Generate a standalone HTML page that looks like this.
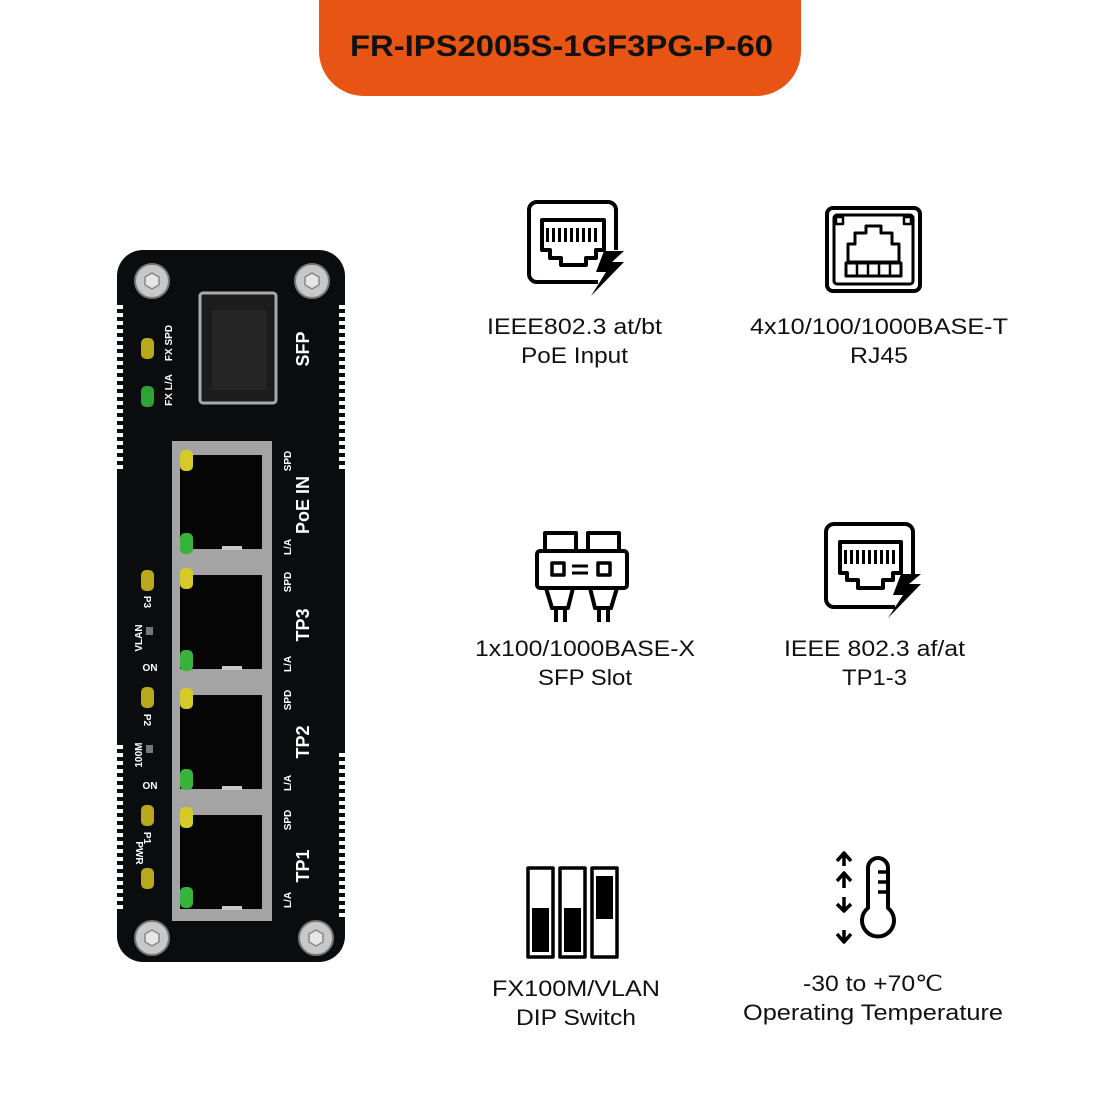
<!DOCTYPE html>
<html><head><meta charset="utf-8"><style>
html,body{margin:0;padding:0;background:#fff;width:1120px;height:1120px;overflow:hidden}
svg text{font-family:"Liberation Sans",sans-serif}
</style></head><body>
<svg width="1120" height="1120" viewBox="0 0 1120 1120" xmlns="http://www.w3.org/2000/svg">
<path d="M319 0H801V51A45 45 0 0 1 756 96H364A45 45 0 0 1 319 51Z" fill="#e85413"/>
<text x="350" y="56" font-size="30" font-weight="bold" fill="#111" textLength="423" lengthAdjust="spacingAndGlyphs">FR-IPS2005S-1GF3PG-P-60</text>

<!-- device -->
<rect x="117" y="250" width="228" height="712" rx="26" fill="#0b0c0e"/>
<g fill="#fff">
<g id="tl"><rect x="117" y="305" width="6" height="4"/><rect x="117" y="313" width="6" height="4"/><rect x="117" y="321" width="6" height="4"/><rect x="117" y="329" width="6" height="4"/><rect x="117" y="337" width="6" height="4"/><rect x="117" y="345" width="6" height="4"/><rect x="117" y="353" width="6" height="4"/><rect x="117" y="361" width="6" height="4"/><rect x="117" y="369" width="6" height="4"/><rect x="117" y="377" width="6" height="4"/><rect x="117" y="385" width="6" height="4"/><rect x="117" y="393" width="6" height="4"/><rect x="117" y="401" width="6" height="4"/><rect x="117" y="409" width="6" height="4"/><rect x="117" y="417" width="6" height="4"/><rect x="117" y="425" width="6" height="4"/><rect x="117" y="433" width="6" height="4"/><rect x="117" y="441" width="6" height="4"/><rect x="117" y="449" width="6" height="4"/><rect x="117" y="457" width="6" height="4"/><rect x="117" y="465" width="6" height="4"/></g>
<use href="#tl" transform="translate(0,440)"/>
<use href="#tl" transform="translate(222,0)"/>
<use href="#tl" transform="translate(222,448)"/>
</g>
<g fill="#c8c8c8" stroke="#777" stroke-width="2">
<circle cx="152" cy="281" r="17"/><circle cx="312" cy="281" r="17"/><circle cx="152" cy="938" r="17"/><circle cx="316" cy="938" r="17"/>
</g>
<g fill="#e6e6e6" stroke="#888" stroke-width="1.5">
<polygon points="152,273 159,277 159,285 152,289 145,285 145,277"/><polygon points="312,273 319,277 319,285 312,289 305,285 305,277"/>
<polygon points="152,930 159,934 159,942 152,946 145,942 145,934"/><polygon points="316,930 323,934 323,942 316,946 309,942 309,934"/>
</g>
<rect x="200" y="293" width="76" height="110" rx="3" fill="#1c1c1c" stroke="#aaa" stroke-width="3"/>
<rect x="212" y="310" width="54" height="80" fill="#262626"/>
<rect x="172" y="441" width="100" height="480" fill="#a4a4a4"/>
<g fill="#050505">
<rect x="180" y="455" width="82" height="94"/><rect x="180" y="575" width="82" height="94"/><rect x="180" y="695" width="82" height="94"/><rect x="180" y="815" width="82" height="94"/>
</g>
<g fill="#c8c8c8"><rect x="222" y="546" width="20" height="4"/><rect x="222" y="666" width="20" height="4"/><rect x="222" y="786" width="20" height="4"/><rect x="222" y="906" width="20" height="4"/></g>
<g>
<rect x="180" y="450" width="13" height="21" rx="5" fill="#d6c928"/><rect x="180" y="533" width="13" height="21" rx="5" fill="#37b33b"/>
<rect x="180" y="568" width="13" height="21" rx="5" fill="#d6c928"/><rect x="180" y="650" width="13" height="21" rx="5" fill="#37b33b"/>
<rect x="180" y="688" width="13" height="21" rx="5" fill="#d6c928"/><rect x="180" y="769" width="13" height="21" rx="5" fill="#37b33b"/>
<rect x="180" y="807" width="13" height="21" rx="5" fill="#d6c928"/><rect x="180" y="887" width="13" height="21" rx="5" fill="#37b33b"/>
<rect x="141" y="338" width="13" height="21" rx="5" fill="#b7a81e"/><rect x="141" y="386" width="13" height="21" rx="5" fill="#2fa235"/>
<rect x="141" y="570" width="13" height="21" rx="5" fill="#b7a81e"/><rect x="141" y="687" width="13" height="21" rx="5" fill="#b7a81e"/>
<rect x="141" y="805" width="13" height="21" rx="5" fill="#b7a81e"/><rect x="141" y="868" width="13" height="21" rx="5" fill="#b7a81e"/>
<rect x="146" y="627" width="7" height="8" fill="#777"/><rect x="146" y="745" width="7" height="8" fill="#777"/>
</g>
<g fill="#fff" font-weight="bold">
<text transform="translate(309,349) rotate(-90)" font-size="18" text-anchor="middle">SFP</text>
<text transform="translate(309,505) rotate(-90)" font-size="18" text-anchor="middle">PoE IN</text>
<text transform="translate(309,625) rotate(-90)" font-size="18" text-anchor="middle">TP3</text>
<text transform="translate(309,742) rotate(-90)" font-size="18" text-anchor="middle">TP2</text>
<text transform="translate(309,866) rotate(-90)" font-size="18" text-anchor="middle">TP1</text>
<g font-size="10">
<text transform="translate(291,461) rotate(-90)" text-anchor="middle">SPD</text>
<text transform="translate(291,582) rotate(-90)" text-anchor="middle">SPD</text>
<text transform="translate(291,700) rotate(-90)" text-anchor="middle">SPD</text>
<text transform="translate(291,820) rotate(-90)" text-anchor="middle">SPD</text>
<text transform="translate(291,547) rotate(-90)" text-anchor="middle">L/A</text>
<text transform="translate(291,664) rotate(-90)" text-anchor="middle">L/A</text>
<text transform="translate(291,783) rotate(-90)" text-anchor="middle">L/A</text>
<text transform="translate(291,900) rotate(-90)" text-anchor="middle">L/A</text>
<text transform="translate(172,343) rotate(-90)" text-anchor="middle">FX SPD</text>
<text transform="translate(172,390) rotate(-90)" text-anchor="middle">FX L/A</text>
<text transform="translate(144,602) rotate(90)" text-anchor="middle">P3</text>
<text transform="translate(142,638) rotate(-90)" text-anchor="middle">VLAN</text>
<text transform="translate(150,664) rotate(180)" text-anchor="middle">NO</text>
<text transform="translate(144,720) rotate(90)" text-anchor="middle">P2</text>
<text transform="translate(142,755) rotate(-90)" text-anchor="middle">100M</text>
<text transform="translate(150,782) rotate(180)" text-anchor="middle">NO</text>
<text transform="translate(144,838) rotate(90)" text-anchor="middle">P1</text>
<text transform="translate(136,853) rotate(90)" text-anchor="middle">PWR</text>
</g>
</g>

<g fill="none" stroke="#000" stroke-width="4" stroke-linejoin="round">
<path d="M598 282H537a8 8 0 0 1-8-8V210a8 8 0 0 1 8-8H608a8 8 0 0 1 8 8v40"/>
<path d="M542 220H604V250H596V258H586V265H561V258H550V250H542Z"/>
<rect x="827" y="208" width="93" height="83" rx="6"/>
<rect x="834" y="215" width="79" height="69" rx="3" stroke-width="3"/>
<path d="M848 262V244H855V233H866V226H881V233H892V244H899V262Z" stroke-width="3"/>
<rect x="846" y="263" width="55" height="13" stroke-width="3"/>
<path d="M857 263V276M868 263V276M879 263V276M890 263V276" stroke-width="2.5"/>
<rect x="836" y="217" width="7" height="7" stroke-width="2.5"/><rect x="904" y="217" width="7" height="7" stroke-width="2.5"/>
<path d="M895 607H834a8 8 0 0 1-8-8V532a8 8 0 0 1 8-8H905a8 8 0 0 1 8 8v42"/>
<path d="M840 542H901V573H893V580H883V588H858V580H847V573H840Z"/>
<path d="M545 551V533H576V551M588 551V533H619V551" />
<rect x="537" y="551" width="90" height="37" rx="3"/>
<rect x="552" y="563" width="12" height="12" stroke-width="3.5"/><rect x="598" y="563" width="12" height="12" stroke-width="3.5"/>
<path d="M572 566H588M572 573H588" stroke-width="3"/>
<path d="M546 588L552 608H568L573 588M590 588L595 608H611L617 588"/>
<path d="M556 608V622M565 608V622M599 608V622M608 608V622"/>
<rect x="528" y="868" width="25" height="89" stroke-width="3.5"/><rect x="560" y="868" width="25" height="89" stroke-width="3.5"/><rect x="592" y="868" width="25" height="89" stroke-width="3.5"/>
<path d="M868 908V868a10 10 0 0 1 20 0v40a16 16 0 1 1-20 0Z"/>
<path d="M878 872H886M878 882H886M878 892H886" stroke-width="3.5"/>
<path d="M837 861L844 853L851 861M844 853V866M837 881L844 873L851 881M844 873V888M837 904L844 911L851 904M844 897V911M837 934L844 942L851 934M844 930V942" stroke-width="3.5"/>
</g>
<g fill="#000">
<path d="M624 251H604L596 272H606L591 296L624 262H612Z"/>
<path d="M921 574H901L893 595H903L888 618L921 584H909Z"/>
<rect x="546" y="228" width="3" height="14"/><rect x="552" y="228" width="3" height="14"/><rect x="558" y="228" width="3" height="14"/><rect x="564" y="228" width="3" height="14"/><rect x="570" y="228" width="3" height="14"/><rect x="576" y="228" width="3" height="14"/><rect x="582" y="228" width="3" height="14"/><rect x="588" y="228" width="3" height="14"/><rect x="594" y="228" width="3" height="14"/>
<rect x="844" y="550" width="3" height="14"/><rect x="850" y="550" width="3" height="14"/><rect x="856" y="550" width="3" height="14"/><rect x="862" y="550" width="3" height="14"/><rect x="868" y="550" width="3" height="14"/><rect x="874" y="550" width="3" height="14"/><rect x="880" y="550" width="3" height="14"/><rect x="886" y="550" width="3" height="14"/><rect x="892" y="550" width="3" height="14"/>
<rect x="532" y="908" width="17" height="44"/><rect x="564" y="908" width="17" height="44"/><rect x="596" y="876" width="17" height="43"/>
</g>

<g font-size="22" fill="#111" lengthAdjust="spacingAndGlyphs">
<text x="487" y="334" textLength="175" lengthAdjust="spacingAndGlyphs">IEEE802.3 at/bt</text><text x="521" y="363" textLength="107" lengthAdjust="spacingAndGlyphs">PoE Input</text>
<text x="750" y="334" textLength="258" lengthAdjust="spacingAndGlyphs">4x10/100/1000BASE-T</text><text x="850" y="363" textLength="58" lengthAdjust="spacingAndGlyphs">RJ45</text>
<text x="475" y="656" textLength="220" lengthAdjust="spacingAndGlyphs">1x100/1000BASE-X</text><text x="538" y="685" textLength="94" lengthAdjust="spacingAndGlyphs">SFP Slot</text>
<text x="784" y="656" textLength="181" lengthAdjust="spacingAndGlyphs">IEEE 802.3 af/at</text><text x="842" y="685" textLength="65" lengthAdjust="spacingAndGlyphs">TP1-3</text>
<text x="492" y="996" textLength="168" lengthAdjust="spacingAndGlyphs">FX100M/VLAN</text><text x="516" y="1025" textLength="120" lengthAdjust="spacingAndGlyphs">DIP Switch</text>
<text x="803" y="991" textLength="140" lengthAdjust="spacingAndGlyphs">-30 to +70℃</text><text x="743" y="1020" textLength="260" lengthAdjust="spacingAndGlyphs">Operating Temperature</text>
</g>
</svg>
</body></html>
